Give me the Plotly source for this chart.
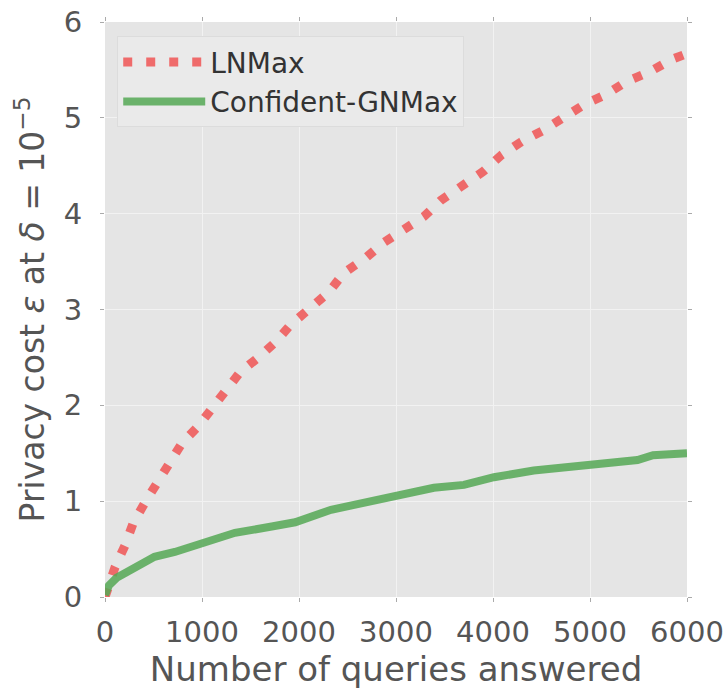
import plotly.graph_objects as go

# LNMax (dotted red)
ln_x = [0, 103, 207, 290, 414, 538, 672, 796, 951, 1107, 1262, 1396, 1582, 1758, 1913,
        2120, 2306, 2461, 2689, 2875, 3082, 3288, 3464, 3692, 3899, 4085, 4292, 4519,
        4726, 4943, 5160, 5377, 5615, 5843, 6000]
ln_y = [0.0, 0.31, 0.54, 0.77, 0.99, 1.19, 1.38, 1.61, 1.77, 1.97, 2.16, 2.35, 2.50, 2.66, 2.84,
        3.02, 3.18, 3.38, 3.54, 3.70, 3.83, 3.97, 4.14, 4.30, 4.44, 4.61, 4.75, 4.87,
        5.00, 5.14, 5.24, 5.38, 5.48, 5.61, 5.67]

# Confident-GNMax (solid green)
gn_x = [0, 40, 120, 300, 510, 720, 1000, 1340, 1690, 1960, 2330, 2710, 3020, 3390,
        3700, 4010, 4420, 4930, 5490, 5650, 5960, 6000]
gn_y = [0.02, 0.12, 0.20, 0.31, 0.42, 0.47, 0.57, 0.67, 0.73, 0.78, 0.91, 0.99, 1.06, 1.14,
        1.17, 1.25, 1.32, 1.38, 1.43, 1.48, 1.49, 1.50]

x_ticks = [0, 1000, 2000, 3000, 4000, 5000, 6000]
y_ticks = [0, 1, 2, 3, 4, 5, 6]

FONT = "DejaVu Sans"
TEXT = "#555555"

fig = go.Figure()
fig.add_trace(go.Scatter(
    x=ln_x, y=ln_y, mode="lines", name="LNMax",
    line=dict(color="rgba(240,85,85,0.85)", width=9, dash="9px,14px"),
))
fig.add_trace(go.Scatter(
    x=gn_x, y=gn_y, mode="lines", name="Confident-GNMax",
    line=dict(color="rgba(85,168,85,0.85)", width=8),
))

axis_common = dict(
    showgrid=True, gridcolor="#f2f2f2", gridwidth=1,
    zeroline=False, showline=False, automargin=False,
    ticks="outside", ticklen=4, tickcolor="#aaaaaa", mirror="ticks",
    tickfont=dict(family=FONT, size=29, color=TEXT),
)

fig.update_layout(
    width=728, height=691,
    margin=dict(l=105, r=41, t=22, b=94),
    paper_bgcolor="white", plot_bgcolor="#e5e5e5",
    font=dict(family=FONT, color=TEXT),
    xaxis=dict(range=[0, 6000], tickvals=x_ticks, ticklabelstandoff=5,
               title=dict(text="Number of queries answered",
                          font=dict(family=FONT, size=34, color=TEXT), standoff=8),
               **axis_common),
    yaxis=dict(range=[0, 6], tickvals=y_ticks, ticklabelstandoff=12,
               title=dict(text="Privacy cost <i>ε</i> at <i>δ</i> = 10<sup>−5</sup>",
                          font=dict(family=FONT, size=33, color=TEXT), standoff=9),
               **axis_common),
    legend=dict(x=0.021, y=0.975, xanchor="left", yanchor="top",
                bgcolor="#eaeaea", bordercolor="#dcdcdc", borderwidth=1,
                font=dict(family=FONT, size=28, color="#333333"),
                itemwidth=82, tracegroupgap=0),
    showlegend=True,
)

fig.write_html("out.html", config={"displayModeBar": False},
               post_script="document.body.style.margin='0px';")
